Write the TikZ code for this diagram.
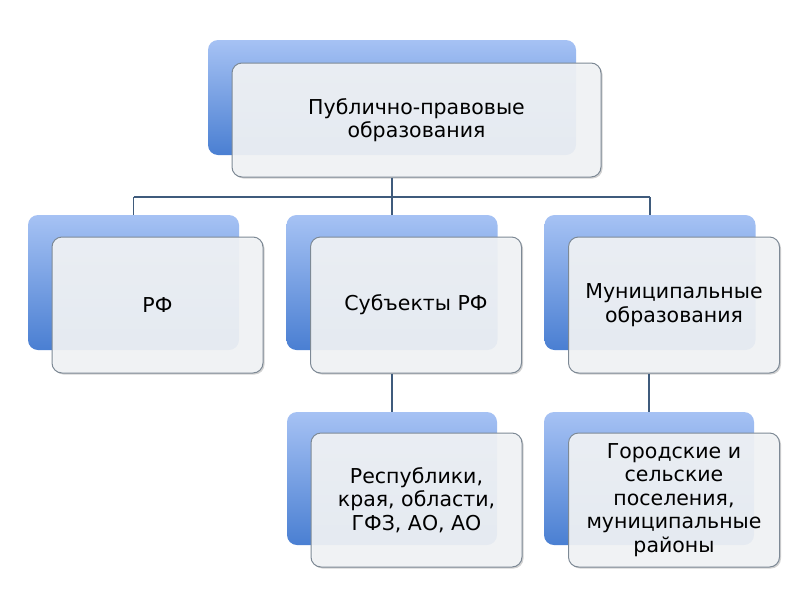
\documentclass[tikz,border=0pt]{standalone}
\usepackage{fontspec}
\setmainfont{DejaVu Sans}
\usetikzlibrary{shadows}
\definecolor{bluetop}{HTML}{A6C2F4}
\definecolor{bluebot}{HTML}{4A7FD2}
\definecolor{frontfill}{HTML}{F4F6F8}
\definecolor{frontline}{HTML}{7D8995}
\definecolor{linkcol}{HTML}{3F5B7C}
\tikzset{
  backbox/.style={rectangle, rounded corners=10pt, top color=bluetop, bottom color=bluebot, draw=none, inner sep=0pt},
  frontbox/.style={rectangle, rounded corners=10pt, fill=frontfill, fill opacity=0.9, draw=frontline, line width=1pt,
    drop shadow={shadow xshift=1.5pt, shadow yshift=-1.5pt, opacity=0.35, fill=gray},
    align=center, font=\fontsize{20.5}{23.5}\selectfont, text opacity=1, inner sep=0pt},
  link/.style={draw=linkcol, line width=1.6pt}
}
\begin{document}
\begin{tikzpicture}[x=1pt,y=-1pt]
\useasboundingbox[fill=white] (0,0) rectangle (800,600);
\coordinate (bar) at (400,197);
\node[backbox, minimum width=368pt, minimum height=115pt] (topback) at (392,97.5) {};
\node[backbox, minimum width=211pt, minimum height=135pt] (rfback) at (133.5,282.5) {};
\node[backbox, minimum width=211pt, minimum height=135pt] (subback) at (392,282.5) {};
\node[backbox, minimum width=211pt, minimum height=135pt] (munback) at (650,282.5) {};
\node[backbox, minimum width=210pt, minimum height=133pt] (repback) at (392,478.5) {};
\node[backbox, minimum width=210pt, minimum height=133pt] (gorback) at (649,478.5) {};

\node[frontbox, minimum width=369pt, minimum height=114pt] (topfront) at (416.5,120) {Публично-правовые\\образования};
\node[frontbox, minimum width=211pt, minimum height=136pt] (rffront) at (157.5,305) {РФ};
\node[frontbox, minimum width=211pt, minimum height=136pt] (subfront) at (416,305) {Субъекты РФ};
\node[frontbox, minimum width=211pt, minimum height=136pt] (munfront) at (674,305) {Муниципальные\\образования};
\node[frontbox, minimum width=211pt, minimum height=134pt] (repfront) at (416.5,500) {Республики,\\края, области,\\ГФЗ, АО, АО};
\node[frontbox, minimum width=211pt, minimum height=134pt] (gorfront) at (674,500) {Городские и\\сельские\\поселения,\\муниципальные\\районы};

\draw[link] (topfront.south -| topback) -- (bar -| topback);
\draw[link] (bar -| rfback) -- (bar -| munback);
\draw[link] (bar -| rfback) -- (rfback.north);
\draw[link] (bar -| subback) -- (subback.north);
\draw[link] (bar -| munback) -- (munback.north);
\draw[link] (subfront.south -| subback) -- (repback.north);
\draw[link] (munfront.south -| gorback) -- (gorback.north);
\end{tikzpicture}
\end{document}
